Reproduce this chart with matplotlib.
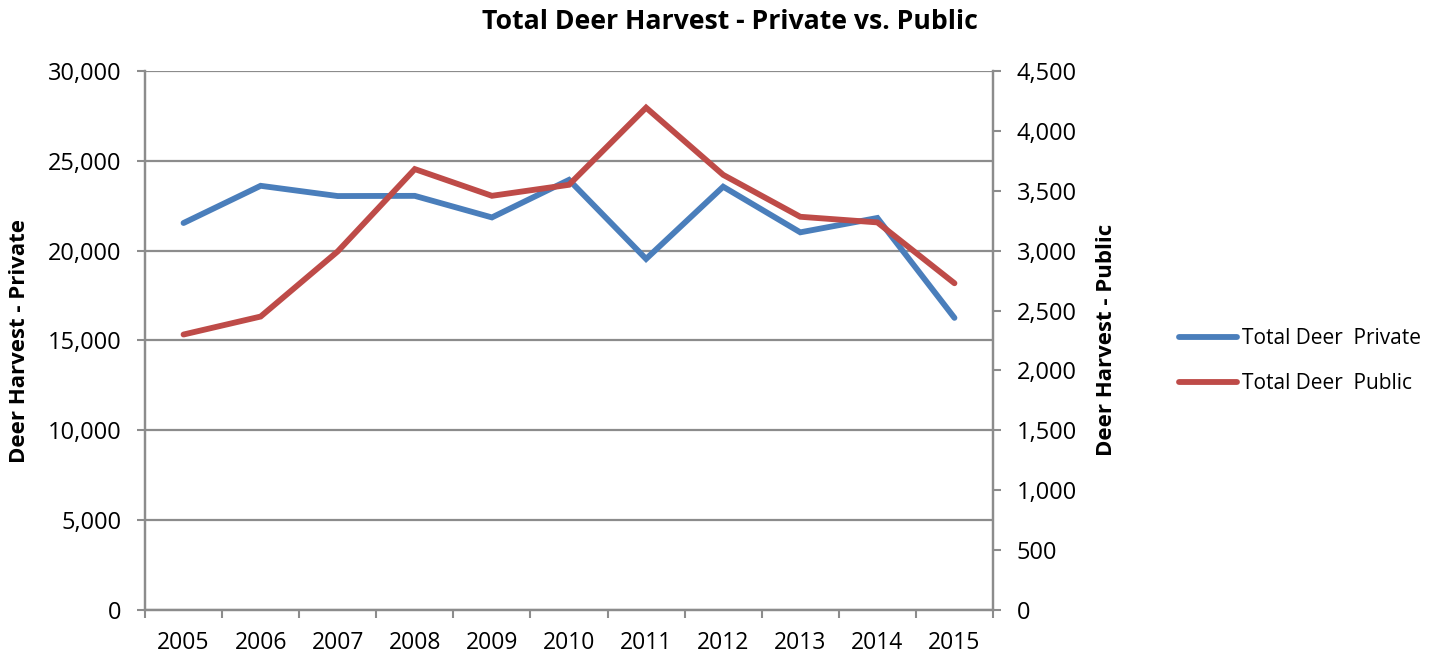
import matplotlib
matplotlib.use("Agg")
import matplotlib.pyplot as plt
import numpy as np
from matplotlib.ticker import FuncFormatter, FixedLocator

years = ["2005", "2006", "2007", "2008", "2009", "2010", "2011", "2012", "2013", "2014", "2015"]
private = [21540, 23610, 23040, 23050, 21850, 23940, 19540, 23560, 21020, 21820, 16260]
public = [2300, 2450, 2994, 3681, 3458, 3550, 4194, 3633, 3283, 3236, 2728]

title = "Total Deer Harvest - Private vs. Public"
left_label = "Deer Harvest - Private"
right_label = "Deer Harvest - Public"
label_private = "Total Deer  Private"
label_public = "Total Deer  Public"

plt.rcParams['font.family'] = ['Open Sans', 'DejaVu Sans']
grey = "#8c8c8c"
blue = "#4a7ebb"
red = "#be4b48"

fig = plt.figure(figsize=(14.4, 6.58), dpi=100)
ax = fig.add_axes([145/1440, 1-610/658, (993-145)/1440, (610-71)/658])
ax2 = ax.twinx()

x = np.arange(len(years))
l1, = ax.plot(x, private, color=blue, lw=4.2, solid_capstyle='round', solid_joinstyle='miter', zorder=3)
l2, = ax2.plot(x, public, color=red, lw=4.2, solid_capstyle='round', solid_joinstyle='miter', zorder=3)

ax.set_xlim(-0.5, len(years) - 0.5)
ax.set_ylim(0, 30000)
ax2.set_ylim(0, 4500)
ax.set_yticks(np.arange(0, 30001, 5000))
ax2.set_yticks(np.arange(0, 4501, 500))
fmt = FuncFormatter(lambda v, p: f"{int(v):,}")
ax.yaxis.set_major_formatter(fmt)
ax2.yaxis.set_major_formatter(fmt)

ax.xaxis.set_major_locator(FixedLocator(np.arange(-0.5, len(years), 1.0)))
ax.xaxis.set_major_formatter(FuncFormatter(lambda v, p: ""))
ax.set_xticks(x, minor=True)
ax.set_xticklabels(years, minor=True)
ax.tick_params(axis='x', which='minor', length=0, pad=15, labelsize=16.5)
ax.tick_params(axis='x', which='major', length=6, width=1.5, color=grey, direction='out')
ax.tick_params(axis='y', length=6, width=1.5, color=grey, labelsize=17, pad=11)
ax2.tick_params(axis='y', length=6, width=1.5, color=grey, labelsize=17, pad=11)

ax.grid(axis='y', color=grey, lw=1.6, zorder=0)
ax.set_axisbelow(True)
for a in (ax, ax2):
    a.spines['top'].set_visible(False)
    for s in ('left', 'right', 'bottom'):
        a.spines[s].set_color(grey)
        a.spines[s].set_linewidth(1.6)

fig.text(20/1440, 1-341/658, left_label, rotation=90, ha='center', va='center',
         fontsize=16, fontweight='bold')
fig.text(1107/1440, 1-340/658, right_label, rotation=90, ha='center', va='center',
         fontsize=16, fontweight='bold')
fig.text(730/1440, 1-22/658, title, ha='center', va='center', fontsize=19.2, fontweight='bold')

fig.legend([l1, l2], [label_private, label_public], loc='center left',
           bbox_to_anchor=(1160/1440, 1-361/658), frameon=False, fontsize=15,
           handlelength=2.8, handletextpad=0.25, labelspacing=1.15)

fig.savefig("out.png", dpi=100)
